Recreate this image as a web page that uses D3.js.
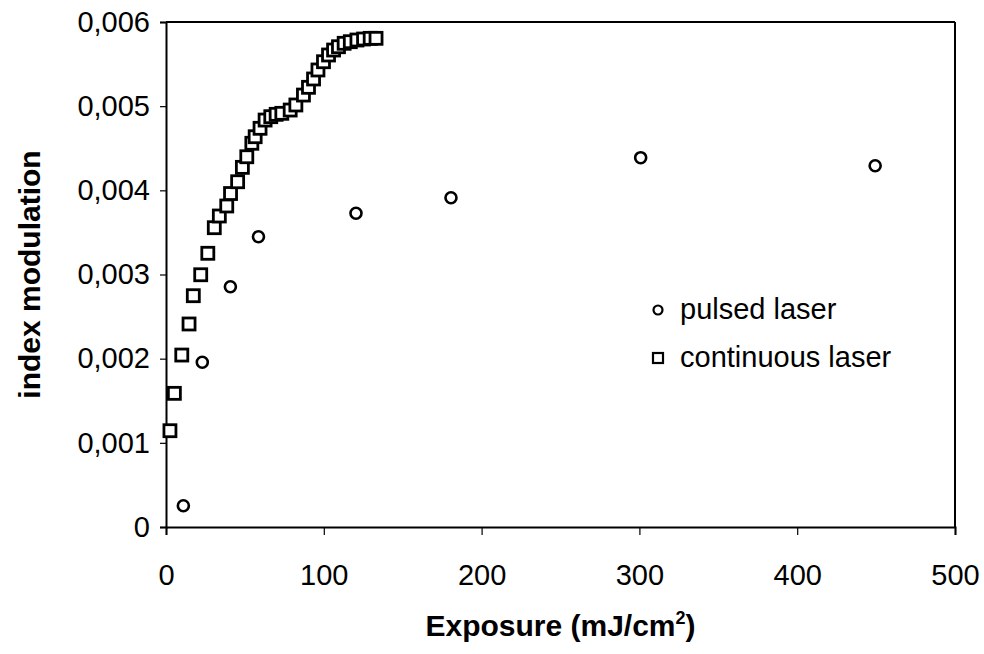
<!DOCTYPE html>
<html>
<head>
<meta charset="utf-8">
<script src="https://cdn.jsdelivr.net/npm/d3@7"></script>
<style>
  body { margin: 0; background: #fff; }
  text { font-family: Arial, "Liberation Sans", sans-serif; fill: #000; }
</style>
</head>
<body>
<div id="chart"></div>
<script>
// Data
const pulsedX = [11, 23, 40.8, 58.6, 120.4, 180.6, 300.8, 449.4];
const pulsedY = [0.000253, 0.001957, 0.002855, 0.003449, 0.003727, 0.003912, 0.004388, 0.004292];

const contX = [2.5, 5.3, 10.0, 14.6, 17.3, 22.0, 26.5, 30.6, 33.8, 38.5, 40.9, 45.4, 48.4, 51.2,
  54.4, 56.5, 59.6, 62.8, 66.4, 69.8, 73.4, 78.7, 82.3, 87.1, 90.3, 93.5, 96.3, 99.8, 103.0,
  106.2, 109.3, 112.9, 116.8, 121.0, 125.2, 129.4, 133.1];
const contY = [0.001144, 0.001588, 0.002043, 0.002412, 0.002748, 0.002997, 0.003252, 0.003556,
  0.003695, 0.003814, 0.003962, 0.004102, 0.004273, 0.004399, 0.004559, 0.004637, 0.004737,
  0.004835, 0.004875, 0.004903, 0.004915, 0.004954, 0.005014, 0.005132, 0.005224, 0.005323,
  0.005430, 0.005528, 0.005608, 0.005667, 0.005706, 0.005747, 0.005766, 0.005786, 0.005798,
  0.005806, 0.005806];

const xTicks = [0, 100, 200, 300, 400, 500];
const yTicks = [0, 0.001, 0.002, 0.003, 0.004, 0.005, 0.006];
const legendLabels = ["pulsed laser", "continuous laser"];

const width = 984, height = 654;
const margin = {top: 22, right: 29, bottom: 127, left: 166};

const svg = d3.select("#chart")
  .append("svg").attr("width", width).attr("height", height);

const x = d3.scaleLinear()
  .domain([0, 500])
  .range([margin.left, width - margin.right]);

const y = d3.scaleLinear()
  .domain([0, 0.006])
  .range([height - margin.bottom, margin.top]);

const fmt = d => d === 0 ? "0" : d3.format(".3f")(d).replace(".", ",");

// axes
const xAxis = svg.append("g")
  .attr("transform", `translate(0, ${height - margin.bottom})`)
  .call(d3.axisBottom(x).tickValues(xTicks).tickSize(8).tickPadding(29).tickFormat(d3.format("d")));

const yAxis = svg.append("g")
  .attr("transform", `translate(${margin.left}, 0)`)
  .call(d3.axisLeft(y).tickValues(yTicks).tickSize(6).tickPadding(10).tickFormat(fmt));

[xAxis, yAxis].forEach(g => {
  g.select(".domain").attr("stroke", "#000").attr("stroke-width", 2);
  g.selectAll(".tick line").attr("stroke", "#000").attr("stroke-width", 1.2);
  g.selectAll(".tick text").attr("font-size", 29).attr("font-family", "Arial, 'Liberation Sans', sans-serif");
});

// box: top and right
svg.append("line")
  .attr("x1", x(0)).attr("x2", x(500))
  .attr("y1", y(0.006)).attr("y2", y(0.006))
  .attr("stroke", "#000").attr("stroke-width", 2);
svg.append("line")
  .attr("x1", x(500)).attr("x2", x(500))
  .attr("y1", y(0.006)).attr("y2", y(0))
  .attr("stroke", "#000").attr("stroke-width", 2);

// continuous laser: squares
const contData = contX.map((d, i) => ({x: d, y: contY[i]}));
svg.append("g").selectAll("rect")
  .data(contData)
  .join("rect")
  .attr("x", d => x(d.x) - 6)
  .attr("y", d => y(d.y) - 6)
  .attr("width", 12)
  .attr("height", 12)
  .attr("fill", "#fff")
  .attr("stroke", "#000")
  .attr("stroke-width", 2.8);

// pulsed laser: circles
const pulsedData = pulsedX.map((d, i) => ({x: d, y: pulsedY[i]}));
svg.append("g").selectAll("circle")
  .data(pulsedData)
  .join("circle")
  .attr("cx", d => x(d.x))
  .attr("cy", d => y(d.y))
  .attr("r", 5.5)
  .attr("fill", "none")
  .attr("stroke", "#000")
  .attr("stroke-width", 2.6);

// legend
const legend = svg.append("g").attr("transform", "translate(658, 310)");
legend.append("circle")
  .attr("cx", 0).attr("cy", 0).attr("r", 4.5)
  .attr("fill", "none").attr("stroke", "#000").attr("stroke-width", 2.2);
legend.append("rect")
  .attr("x", -5).attr("y", 43).attr("width", 10).attr("height", 10)
  .attr("fill", "none").attr("stroke", "#000").attr("stroke-width", 2.2);
legend.selectAll("text.lab")
  .data(legendLabels)
  .join("text")
  .attr("class", "lab")
  .attr("x", 22)
  .attr("y", (d, i) => i * 48 + 9)
  .attr("font-size", 29)
  .text(d => d);

// axis titles
const xt = svg.append("text")
  .attr("x", (x(0) + x(500)) / 2)
  .attr("y", 636)
  .attr("text-anchor", "middle")
  .attr("font-size", 30)
  .attr("font-weight", "bold");
xt.append("tspan").text("Exposure (mJ/cm");
xt.append("tspan").attr("font-size", 18).attr("dy", -12).text("2");
xt.append("tspan").attr("dy", 12).text(")");

svg.append("text")
  .attr("transform", `translate(40, ${(y(0) + y(0.006)) / 2}) rotate(-90)`)
  .attr("text-anchor", "middle")
  .attr("font-size", 30)
  .attr("font-weight", "bold")
  .text("index modulation");
</script>
</body>
</html>
